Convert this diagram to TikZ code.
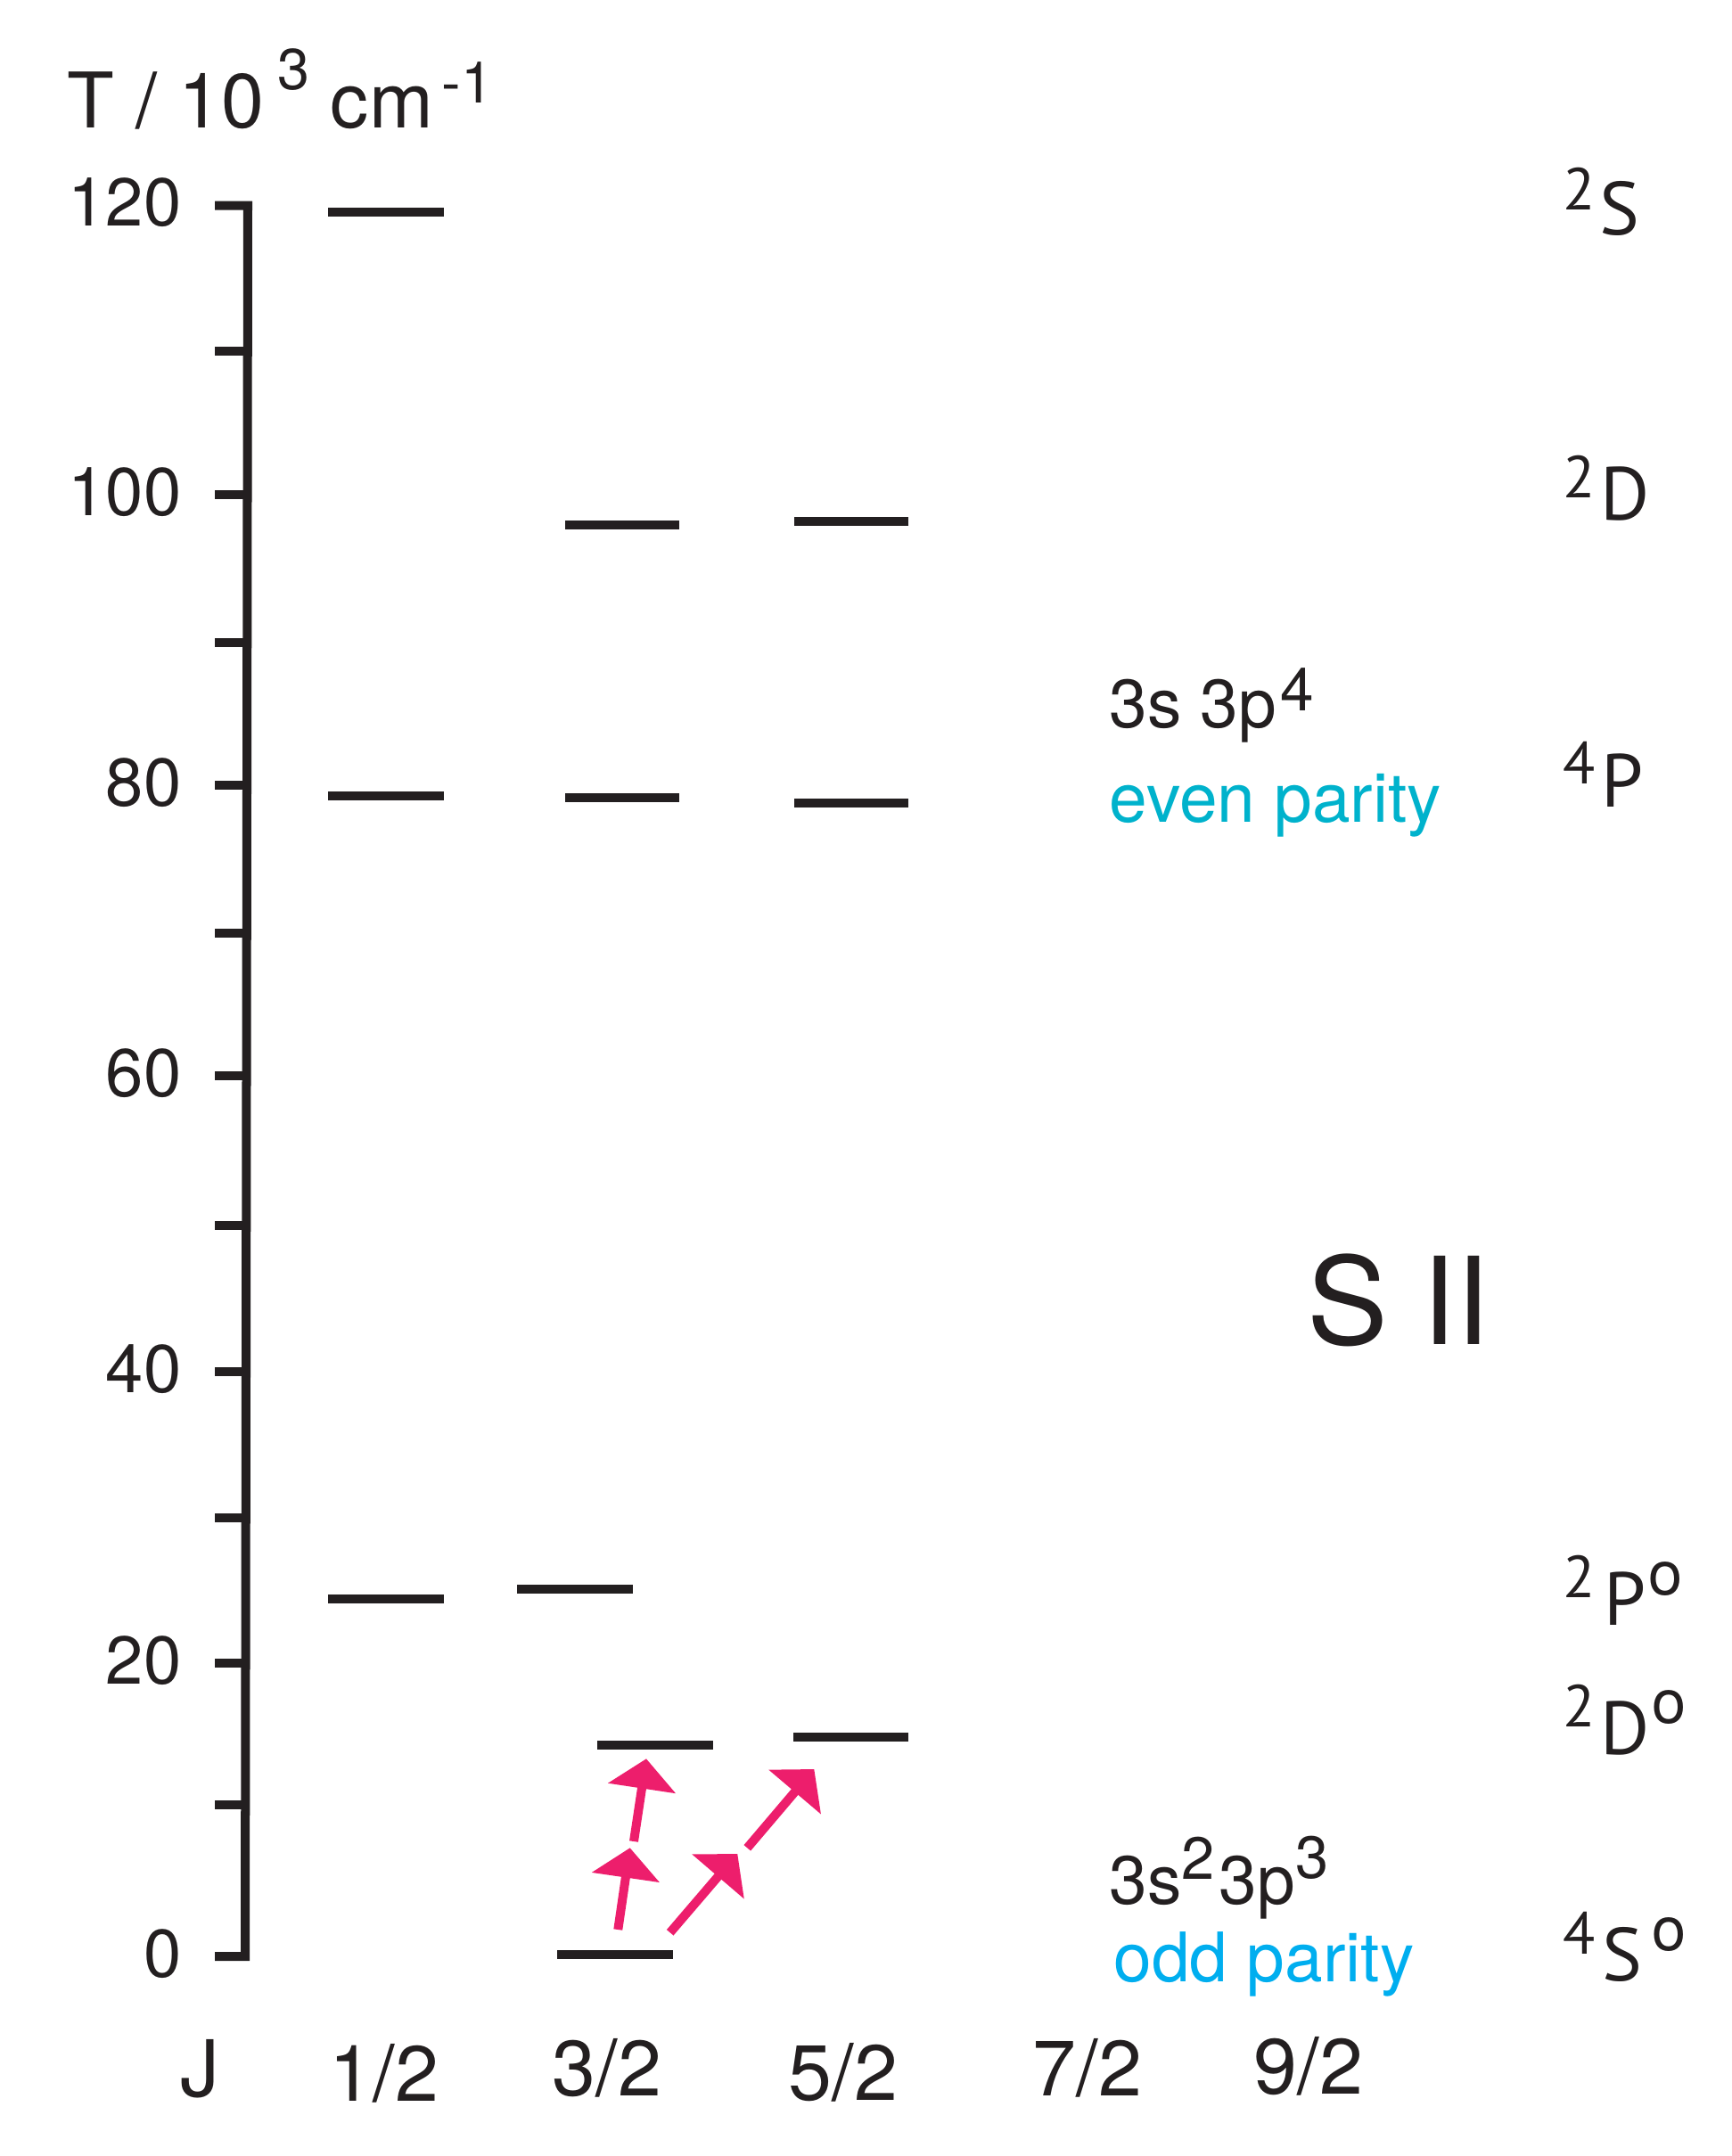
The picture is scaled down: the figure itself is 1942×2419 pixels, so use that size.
\documentclass[tikz,border=0pt]{standalone}
\usepackage{fontspec}
\setmainfont{TeX Gyre Heros}
\newfontfamily\termfont{PT Sans}
\usetikzlibrary{arrows.meta}
\definecolor{ink}{RGB}{35,31,32}
\definecolor{pinkarrow}{RGB}{237,30,108}
\definecolor{evencol}{RGB}{0,178,204}
\definecolor{oddcol}{RGB}{0,174,239}
\newcommand{\fs}[1]{\fontsize{#1}{#1}\selectfont}
\begin{document}
\begin{tikzpicture}[x=0.01cm,y=-0.01cm,
  elevel/.style={draw=ink, line width=0.1cm},
  axisline/.style={draw=ink, line width=0.1cm},
  trans/.style={draw=pinkarrow, line width=0.1cm, -{Triangle[length=0.335cm,width=0.75cm]}},
  txt/.style={inner sep=0, text=ink},
  ticklab/.style={txt, anchor=east, font=\fs{21.6pt}},
  cfg/.style={txt, anchor=base west, font=\fs{21.8pt}},
  jlab/.style={txt, anchor=base, font=\fs{25pt}},
  termmain/.style={txt, anchor=base west, font=\termfont\fs{24pt}},
  termsup/.style={txt, anchor=base west, font=\termfont\fs{18.9pt}},
  termo/.style={txt, anchor=base west, font=\fs{19.5pt}}]
\useasboundingbox (0,0) rectangle (1942,2419);

% title
\node[txt, anchor=base west, font=\fs{24.5pt}] (title) at (75,143.3)
  {T / 10\hspace{0.15cm}\raisebox{0.43cm}{\fs{18.4pt}3} cm\hspace{0.1cm}\raisebox{0.28cm}{\fs{18.4pt}-1}};

% axis
\draw[axisline, line join=miter] (241,230.6) -- (278,230.6) -- (275,2195) -- (241,2195);
\foreach \y in {394,555,721,881,1047,1207,1375,1539,1703,1866,2025}
  \draw[axisline] (241,\y) -- (277,\y);
\node[ticklab] (lab120) at (204,227.6) {120};
\node[ticklab] (lab100) at (204,552) {100};
\node[ticklab] (lab80) at (204,878) {80};
\node[ticklab] (lab60) at (204,1204) {60};
\node[ticklab] (lab40) at (204,1536) {40};
\node[ticklab] (lab20) at (204,1863) {20};
\node[ticklab] (lab0) at (204,2192) {0};

% levels
\draw[elevel] (368,237.7) -- (498,237.7);   % 2S 1/2
\draw[elevel] (634,589) -- (762,589);       % 2D 3/2
\draw[elevel] (891,585) -- (1019,585);      % 2D 5/2
\draw[elevel] (368,893) -- (498,893);       % 4P 1/2
\draw[elevel] (634,895) -- (762,895);       % 4P 3/2
\draw[elevel] (891,901) -- (1019,901);      % 4P 5/2
\draw[elevel] (368,1794) -- (498,1794);     % 2Po 1/2
\draw[elevel] (580,1783) -- (710,1783);     % 2Po 3/2
\draw[elevel] (670,1958) -- (800,1958);     % 2Do 3/2
\draw[elevel] (890,1949) -- (1019,1949);    % 2Do 5/2
\draw[elevel] (625,2193) -- (755,2193);     % 4So 3/2

% transition arrows
\coordinate (a1s) at (693.3,2165);  \coordinate (a1e) at (706.7,2073.3);
\coordinate (a2s) at (711,2066);    \coordinate (a2e) at (725,1973.3);
\coordinate (a3s) at (751.7,2168.3);\coordinate (a3e) at (827.3,2080);
\coordinate (a4s) at (838.3,2073.3);\coordinate (a4e) at (913.3,1985);
\draw[trans] (a1s) -- (a1e);
\draw[trans] (a2s) -- (a2e);
\draw[trans] (a3s) -- (a3e);
\draw[trans] (a4s) -- (a4e);

% configuration labels
\node[cfg] (cfgeven) at (1244,817) {3s 3p\hspace{0.04cm}\raisebox{0.19cm}{\fs{19.2pt}4}};
\node[cfg, text=evencol] (evenlab) at (1244,922) {even parity};
\node[cfg] (cfgodd) at (1244,2136) {3s\raisebox{0.28cm}{\fs{19pt}2}\hspace{0.05cm}3p\raisebox{0.29cm}{\fs{19pt}3}};
\node[cfg, text=oddcol] (oddlab) at (1249,2223) {odd parity};

% ion
\node[txt, anchor=base west, font=\fs{38.7pt}] (ion) at (1466,1508) {S II};

% terms
\node[termsup] (t2Sa) at (1753,236) {2};
\node[termmain] (t2S) at (1794,263.5) {S};
\node[termsup] (t2Da) at (1753,558.3) {2};
\node[termmain] (t2D) at (1795,584) {D};
\node[termsup] (t4Pa) at (1753,879) {4};
\node[termmain] (t4P) at (1796,905) {P};
\node[termsup] (t2Poa) at (1753,1792) {2};
\node[termmain] (t2Po) at (1799,1823) {P};
\node[termo] (t2Pob) at (1849,1789) {o};
\node[termsup] (t2Doa) at (1753,1937) {2};
\node[termmain] (t2Do) at (1795,1968) {D};
\node[termo] (t2Dob) at (1853,1933) {o};
\node[termsup] (t4Soa) at (1753,2192) {4};
\node[termmain] (t4So) at (1797,2222) {S};
\node[termo] (t4Sob) at (1853,2188) {o};

% J labels
\node[jlab] (jJ) at (224,2352) {J};
\node[jlab] (j1) at (431,2357) {1/2};
\node[jlab] (j3) at (681,2351) {3/2};
\node[jlab] (j5) at (946,2356) {5/2};
\node[jlab] (j7) at (1220,2351) {7/2};
\node[jlab] (j9) at (1468,2349) {9/2};
\end{tikzpicture}
\end{document}
